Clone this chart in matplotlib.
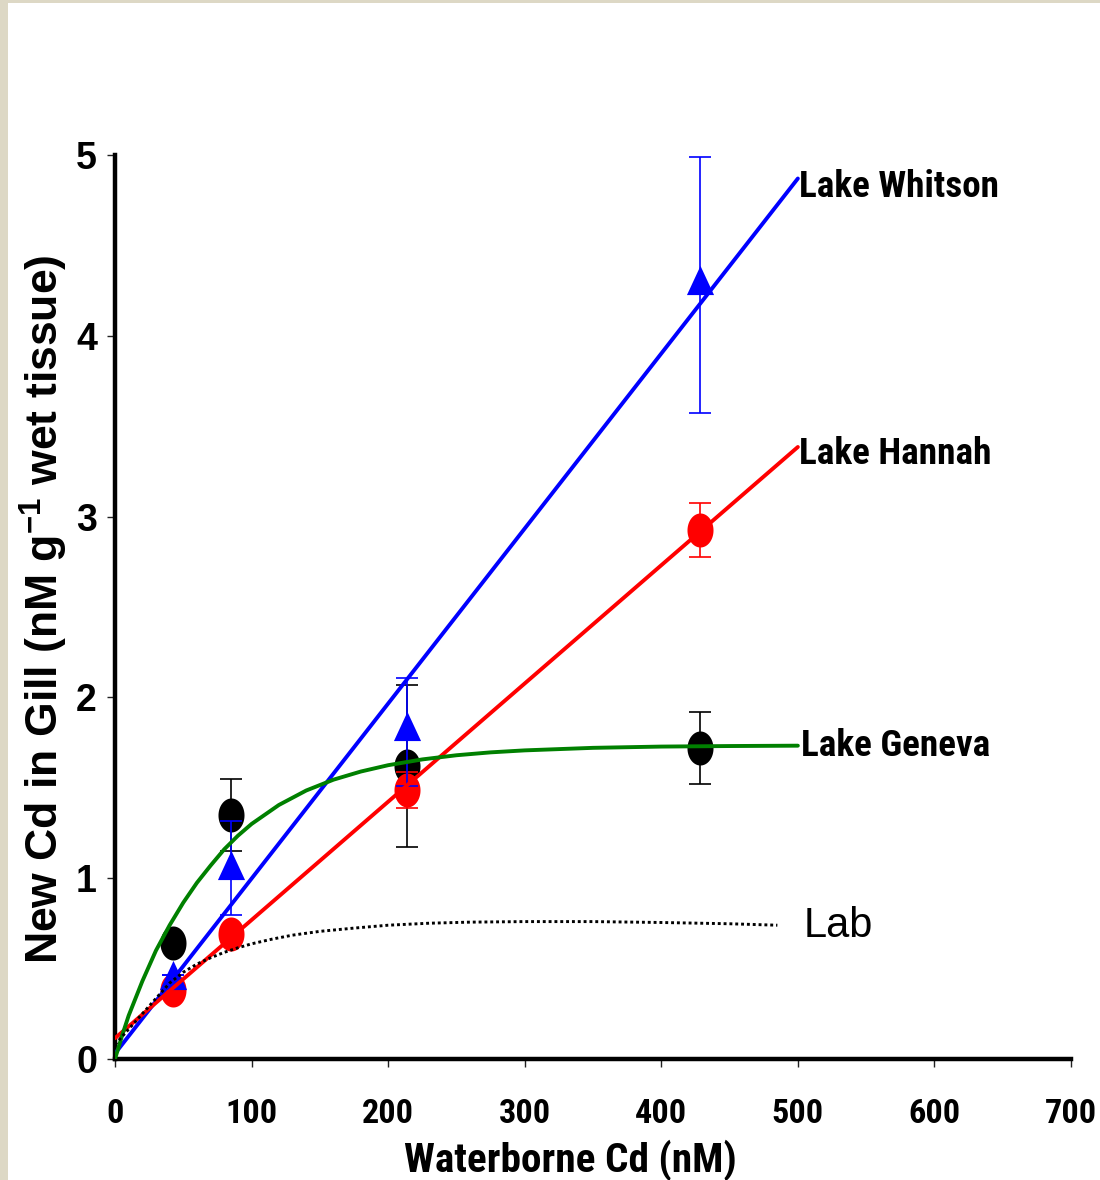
import matplotlib
matplotlib.use("Agg")
import matplotlib.pyplot as plt
import numpy as np
from matplotlib.path import Path
from matplotlib.patches import Rectangle
from matplotlib import font_manager

# ---- data -------------------------------------------------------------
cd_water = [42.5, 85, 213.5, 428]          # waterborne Cd (nM)

geneva = [0.64, 1.35, 1.62, 1.72]
geneva_err = [0.03, 0.20, 0.45, 0.20]

whitson = [0.465, 1.075, 1.84, 4.31]
whitson_err_low = [0.0, 0.28, 0.33, 0.735]
whitson_err_high = [0.0, 0.24, 0.27, 0.68]

hannah = [0.38, 0.69, 1.49, 2.925]
hannah_err = [0.03, 0.03, 0.10, 0.15]

# fitted relationships
whitson_fit_x = [0, 500]
whitson_fit_y = [0.03, 4.87]
hannah_fit_x = [0, 500]
hannah_fit_y = [0.115, 3.385]
geneva_fit_x = [0, 5, 10, 20, 30, 40, 50, 60, 70, 80, 90, 100, 120, 140, 160, 180,
                200, 225, 250, 275, 300, 350, 400, 450, 500]
geneva_fit_y = [0.0, 0.125, 0.24, 0.43, 0.60, 0.74, 0.865, 0.975, 1.07, 1.16, 1.235,
                1.30, 1.405, 1.485, 1.545, 1.59, 1.625, 1.657, 1.68, 1.696, 1.707,
                1.721, 1.728, 1.731, 1.733]
lab_fit_x = [0, 10, 20, 30, 40, 50, 60, 70, 80, 90, 100, 115, 130, 150, 175, 200,
             230, 260, 300, 350, 400, 450, 485]
lab_fit_y = [0.08, 0.165, 0.25, 0.335, 0.42, 0.48, 0.525, 0.56, 0.59, 0.615, 0.637,
             0.663, 0.685, 0.706, 0.724, 0.740, 0.751, 0.757, 0.760, 0.760, 0.755,
             0.748, 0.740]

series_labels = ["Lake Whitson", "Lake Hannah", "Lake Geneva", "Lab"]
x_ticks = [0, 100, 200, 300, 400, 500, 600, 700]
y_ticks = [0, 1, 2, 3, 4, 5]

# ---- fonts ------------------------------------------------------------
installed = {f.name for f in font_manager.fontManager.ttflist}
NARROW = "Liberation Sans"
for cand in ("Roboto Condensed", "Archivo Narrow", "PT Sans Narrow",
             "IBM Plex Sans Condensed", "Sofia Sans Semi Condensed"):
    if cand in installed:
        NARROW = cand
        break
SANS = "Liberation Sans"
plt.rcParams["mathtext.fontset"] = "custom"
plt.rcParams["mathtext.rm"] = SANS
plt.rcParams["mathtext.bf"] = SANS + ":bold"

# ---- marker shapes (slightly tall ellipse and triangle) ---------------
t = np.linspace(0, 2 * np.pi, 64)
ellipse = Path(np.column_stack([0.765 * np.cos(t), np.sin(t)]))
triangle = Path([(-0.93, -1.0), (0.93, -1.0), (0.0, 1.0), (-0.93, -1.0)])

BLUE, RED, GREEN = "#0000ff", "#ff0000", "#008000"

fig = plt.figure(figsize=(11, 11.8), dpi=100)
renderer = fig.canvas.get_renderer()
fig.patches.append(Rectangle((0, 0), 7.5 / 1100, 1, transform=fig.transFigure,
                             facecolor="#ddd8c5", edgecolor="none", zorder=0))
fig.patches.append(Rectangle((0, 1 - 2.5 / 1180), 1, 2.5 / 1180, transform=fig.transFigure,
                             facecolor="#ddd8c5", edgecolor="none", zorder=0))

ax = fig.add_axes([115 / 1100, 121 / 1180, 956 / 1100, 904 / 1180])


def fit_size(text_obj, target_px):
    """Rescale a text's font size so that its rendered width is target_px."""
    w = text_obj.get_window_extent(renderer).width
    text_obj.set_fontsize(text_obj.get_fontsize() * target_px / w)
    return text_obj.get_fontsize()


def points(xv, yv, err, color, marker, size, z):
    ax.errorbar(xv, yv, yerr=err, fmt="none", ecolor=color, elinewidth=1.2,
                capsize=8, capthick=1.2, zorder=z, clip_on=False)
    ax.plot(xv, yv, ls="none", marker=marker, ms=size, color=color,
            mew=0, zorder=z)


points(cd_water, geneva, geneva_err, "black", ellipse, 24.5, 3)
points(cd_water, hannah, hannah_err, RED, ellipse, 24.5, 4)
points(cd_water, whitson, [whitson_err_low, whitson_err_high], BLUE, triangle, 21, 5)

ax.plot(whitson_fit_x, whitson_fit_y, color=BLUE, lw=2.8, solid_capstyle="round", zorder=7)
ax.plot(hannah_fit_x, hannah_fit_y, color=RED, lw=2.8, solid_capstyle="round", zorder=7)
ax.plot(geneva_fit_x, geneva_fit_y, color=GREEN, lw=2.8, solid_capstyle="round", zorder=7)
ax.plot(lab_fit_x, lab_fit_y, color="black", lw=2.1, ls=(0, (1, 1.0)),
        dash_capstyle="butt", zorder=7)

ax.set_xlim(0, 700)
ax.set_ylim(0, 5)

# curve labels
label_pos = [(501.0, 4.768), (501.0, 3.29), (502.0, 1.676)]
label_txt = []
for name, (lx, ly) in zip(series_labels[:3], label_pos):
    label_txt.append(ax.text(lx, ly, name, fontfamily=NARROW, fontweight="bold",
                             fontsize=27, ha="left", va="baseline", clip_on=False))
lake_size = fit_size(label_txt[0], 200)
for lt in label_txt[1:]:
    lt.set_fontsize(lake_size)
ax.text(504, 0.675, series_labels[3], fontfamily=SANS, fontsize=30,
        ha="left", va="baseline", clip_on=False)

# tick labels
probe = fig.text(0, 0, "500", fontfamily=NARROW, fontweight="bold", fontsize=27)
tick_size = fit_size(probe, 52)
probe.remove()
ax.set_xticks(x_ticks)
ax.set_yticks(y_ticks)
ax.set_xticklabels([str(v) for v in x_ticks], fontfamily=NARROW, fontweight="bold",
                   fontsize=tick_size)
ax.set_yticklabels([str(v) for v in y_ticks], fontfamily=SANS, fontweight="bold", fontsize=27)
ax.tick_params(axis="both", direction="out", length=6, width=1.0, color="#222222")
ax.tick_params(axis="x", pad=22)
ax.tick_params(axis="y", pad=7)

for side in ("top", "right"):
    ax.spines[side].set_visible(False)
for side in ("left", "bottom"):
    ax.spines[side].set_linewidth(3.2)

xl = fig.text(570 / 1100, 1 - 1172 / 1180, "Waterborne Cd (nM)", fontfamily=NARROW,
              fontweight="bold", fontsize=30, ha="center", va="baseline")
fit_size(xl, 332)
fig.text(44 / 1100, 1 - 609 / 1180, r"New Cd in Gill (nM g$^{\mathbf{-1}}$ wet tissue)",
         fontfamily=SANS, fontweight="bold", fontsize=32, rotation=90,
         ha="center", va="center")

fig.savefig("out.png", dpi=100)
